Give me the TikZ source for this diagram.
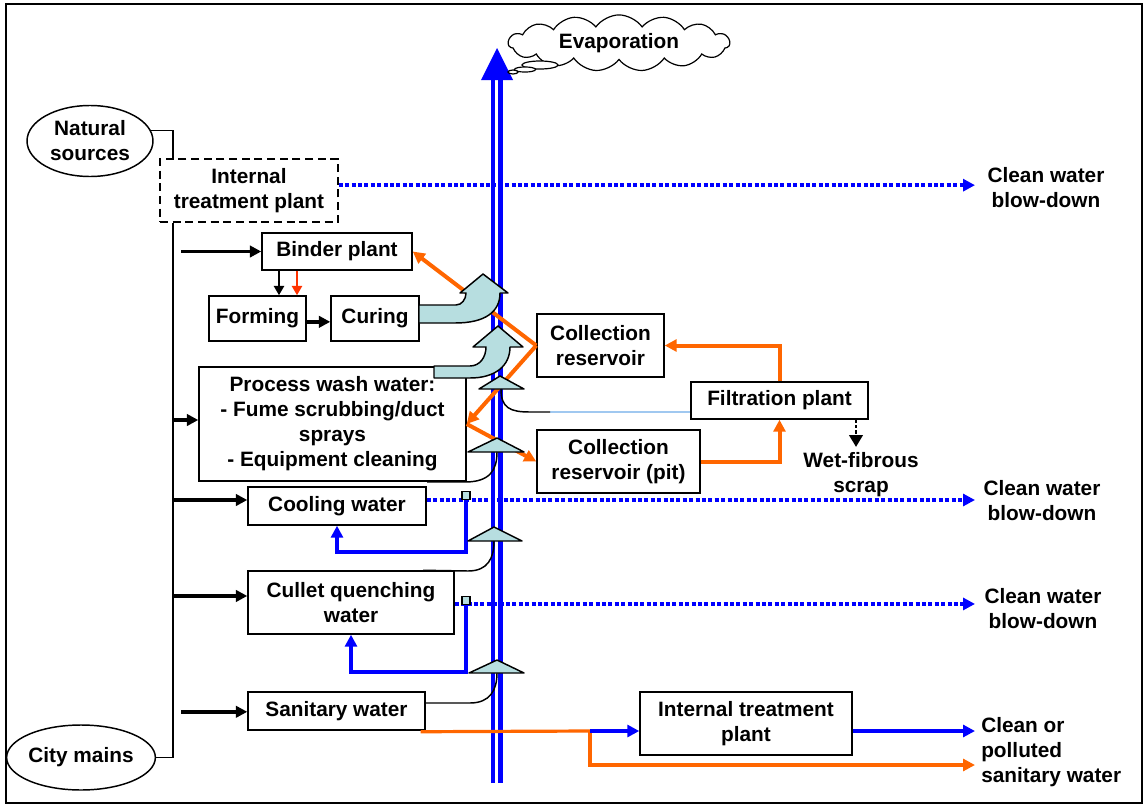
\documentclass[tikz,border=0pt]{standalone}
\usepackage{fontspec}
\setmainfont{Liberation Sans}
\usetikzlibrary{arrows.meta,shapes.geometric,shapes.symbols}
\definecolor{pipeblue}{RGB}{0,0,255}
\definecolor{orng}{RGB}{255,102,0}
\definecolor{redorng}{RGB}{255,51,0}
\definecolor{lteal}{RGB}{183,222,224}
\definecolor{lineblue}{RGB}{160,200,240}
\tikzset{
  txt/.style={font=\fontsize{15.6}{18.75}\selectfont\bfseries, align=center},
  box/.style={txt, draw, line width=1.1pt, fill=white, inner sep=0pt},
  busline/.style={line width=1.1pt},
  feed/.style={line width=2.6pt, -{Triangle[length=8.5pt,width=8.5pt]}},
  smallfeed/.style={line width=1.8pt, -{Triangle[length=7pt,width=7.5pt]}},
  oarrow/.style={orng, line width=3pt, -{Triangle[length=9pt,width=9pt]}},
  oline/.style={orng, line width=2.4pt},
  barrow/.style={pipeblue, line width=2.6pt, -{Triangle[length=9pt,width=9pt]}},
  dotarrow/.style={pipeblue, line width=3pt, dash pattern=on 3pt off 1.8pt, -{Triangle[length=9pt,width=9pt]}},
  fin/.style={fill=lteal, draw, line width=1.1pt, line join=round},
  thincurve/.style={line width=1.1pt},
  valve/.style={draw, fill=lteal, minimum size=6pt, inner sep=0pt, line width=0.8pt},
}
\begin{document}
\begin{tikzpicture}[x=0.75pt,y=-0.75pt]
\useasboundingbox (0,0) rectangle (1147,807);
\draw[line width=2.2pt] (6,4) rectangle (1142,803);

% helper coordinates
\coordinate (bus) at (173,0);
\coordinate (fb) at (181,0);
\coordinate (bdx) at (975,0);
\coordinate (x279) at (279,0);
\coordinate (x297) at (297,0);
\coordinate (wx) at (856,0);
\coordinate (wtip) at (856,447);
\coordinate (y412) at (0,412);
\coordinate (split) at (590,731);
\coordinate (sanout) at (975,765);

% pipe
\draw[pipeblue, line width=9pt] (497,783) -- (497,78);
\draw[white, line width=2.2pt] (496.5,784) -- (496.5,78);
\fill[pipeblue] (481,80) -- (513,80) -- (497,48) -- cycle;

% cloud
\node[cloud, draw, fill=white, line width=0.9pt, cloud puffs=15, cloud puff arc=110, aspect=4.4,
      minimum width=166pt, minimum height=37pt, inner sep=0pt, txt] (evap) at (619,43) {Evaporation};
\draw[line width=0.9pt, fill=white] (540,65) ellipse [x radius=13.5pt, y radius=3pt];
\draw[line width=0.9pt, fill=white] (525,69.5) ellipse [x radius=7.9pt, y radius=1.9pt];
\draw[line width=0.9pt, fill=white] (513,72) ellipse [x radius=3.75pt, y radius=1.5pt];

% sources
\node[draw, ellipse, line width=1.1pt, minimum width=94.5pt, minimum height=53.25pt, inner sep=0pt, txt] (nat) at (90,141) {Natural\\sources};
\node[draw, ellipse, line width=1.1pt, minimum width=91.5pt, minimum height=48.75pt, inner sep=0pt, txt] (city) at (81,757.5) {City mains};
\node[box, dash pattern=on 6pt off 3.5pt, minimum width=133.5pt, minimum height=47.25pt] (itp) at (249,190.5) {Internal\\treatment plant};

\draw[busline] (nat.10) -| (itp.north -| bus);
\draw[busline] (itp.south -| bus) |- (city.east);

% boxes
\node[box, minimum width=112.5pt, minimum height=27.75pt] (binder) at (337,251.5) {Binder plant};
\node[box, minimum width=72.75pt, minimum height=33.75pt] (forming) at (257.5,318.5) {Forming};
\node[box, minimum width=66pt, minimum height=33.75pt] (curing) at (375,318.5) {Curing};
\node[box, minimum width=200.25pt, minimum height=85.5pt] (process) at (332.5,424) {Process wash water:\\- Fume scrubbing/duct\\sprays\\- Equipment cleaning};
\node[box, minimum width=95.25pt, minimum height=47.25pt] (coll) at (600.5,345.5) {Collection\\reservoir};
\node[box, minimum width=132.75pt, minimum height=27.75pt] (filt) at (779.5,400.5) {Filtration plant};
\node[box, minimum width=122.25pt, minimum height=47.25pt] (pit) at (618.5,461.5) {Collection\\reservoir (pit)};
\node[box, minimum width=133.5pt, minimum height=28.5pt] (cooling) at (337,506) {Cooling water};
\node[box, minimum width=154.5pt, minimum height=47.25pt] (cullet) at (351,602.5) {Cullet quenching\\water};
\node[box, minimum width=132.75pt, minimum height=28.5pt] (sanitary) at (336.5,711) {Sanitary water};
\node[box, minimum width=159pt, minimum height=47.25pt] (itp2) at (746,723.5) {Internal treatment\\plant};

% labels
\node[txt] (bd1) at (1046,188) {Clean water\\blow-down};
\node[txt] (bd2) at (1042,500.5) {Clean water\\blow-down};
\node[txt] (bd3) at (1043,608.5) {Clean water\\blow-down};
\node[txt, align=left, anchor=west, inner sep=0pt] (san) at (981,752) {Clean or\\polluted\\sanitary water};
\node[txt] (wet) at (861,474.5) {Wet-fibrous\\scrap};

% feed arrows
\draw[feed] (binder.west -| fb) -- (binder.west);
\path ([yshift=3pt]process.west) coordinate (pw);
\draw[feed] (pw -| bus) -- (pw);
\path ([yshift=4.5pt]cooling.west) coordinate (cw);
\draw[feed] (cw -| bus) -- (cw);
\path ([yshift=4.9pt]cullet.west) coordinate (qw);
\draw[feed] (qw -| bus) -- (qw);
\path ([yshift=-0.6pt]sanitary.west) coordinate (sw);
\draw[feed] (sw -| fb) -- (sw);

\draw[smallfeed] (binder.south -| x279) -- (forming.north -| x279);
\draw[smallfeed, redorng] (binder.south -| x297) -- (forming.north -| x297);
\draw[feed] ([yshift=-2.5pt]forming.east) -- ([yshift=-2.5pt]curing.west);

% blue dotted blow-downs
\path ([yshift=4pt]itp.east) coordinate (ie);
\draw[dotarrow] (ie) -- (ie -| bdx);
\path ([yshift=4.5pt]cooling.east) coordinate (ce);
\draw[dotarrow] (ce) -- (ce -| bdx);
\path ([yshift=-1.1pt]cullet.east) coordinate (qe);
\draw[dotarrow] (qe) -- (qe -| bdx);

% valves and loops
\node[valve] (sq1) at (466,495.5) {};
\node[valve] (sq2) at (466,600.5) {};
\coordinate (yl1) at (0,552);
\coordinate (yl2) at (0,672);
\draw[barrow] (sq1.south) -- (sq1.south |- yl1) -| (cooling.south);
\draw[barrow] (sq2.south) -- (sq2.south |- yl2) -| (cullet.south);

% orange flows
\draw[oarrow] (coll.west) -- (binder.east);
\draw[oarrow] (coll.west) -- (process.east);
\draw[oarrow] (process.east) -- (pit.west);
\draw[oarrow] (filt.north) |- (coll.east);
\draw[oarrow] (pit.east) -| (filt.south);

% filtration to pipe
\draw[lineblue, line width=1.1pt] (550,412) -- (filt.west |- y412);

% sanitary outputs
\draw[oline] ([xshift=-3.75pt,yshift=-0.75pt]sanitary.south east) -- (split);
\draw[oarrow, line width=2.4pt] (split) |- (sanout);
\draw[barrow] (split) -- (split -| itp2.west);
\draw[barrow] (itp2.east |- split) -- (split -| bdx);

% bent arrows
\draw[fin] (419,305) -- (456,305) .. controls (462,305) and (466,299) .. (466,293) -- (460,293) -- (483,274) -- (508,293) -- (500,293) .. controls (500,312) and (485,323) .. (455,323) -- (419,323) -- cycle;
\draw[fin] (434,366) -- (470,366) .. controls (480,366) and (486,357) .. (486,347) -- (473,347) -- (498,326) -- (523,347) -- (510,347) .. controls (510,366) and (495,378) .. (470,378) -- (434,378) -- cycle;

% fins at pipe
\draw[fin] (479,389) -- (524,389) -- (500,376) -- cycle;
\draw[fin] (468,452) -- (524,452) -- (497,438) -- cycle;
\draw[fin] (468,541) -- (522,541) -- (494,527) -- cycle;
\draw[fin] (469,673) -- (524,673) -- (497,660) -- cycle;

% curves from fins
\draw[thincurve] (501,389) .. controls (501,408) and (510,412) .. (530,412) -- (550,412);
\draw[thincurve] (427,482) -- (465,482) .. controls (490,482) and (497,470) .. (497,452);
\draw[thincurve] ([xshift=54pt]cullet.north) -- (468,571) .. controls (488,571) and (494,558) .. (494,541);
\draw[thincurve] ([yshift=6pt]sanitary.east) -- (470,703) .. controls (490,703) and (497,690) .. (497,673);

% wet scrap
\draw[line width=2.2pt, dash pattern=on 2.5pt off 1.5pt, -{Triangle[length=9pt,width=10pt]}] (filt.south -| wx) -- (wtip);
\end{tikzpicture}
\end{document}
